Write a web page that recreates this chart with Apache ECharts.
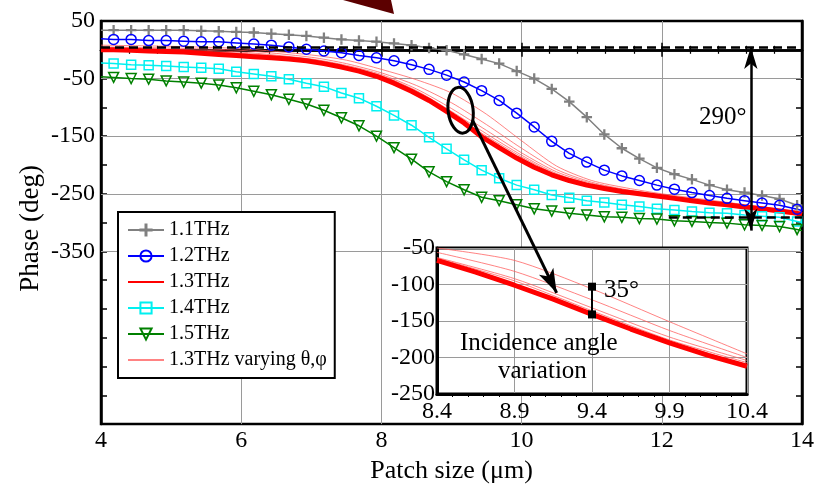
<!DOCTYPE html>
<html><head><meta charset="utf-8">
<script src="https://cdn.jsdelivr.net/npm/echarts@6/dist/echarts.min.js"></script>
<style>html,body{margin:0;padding:0;background:#fff}#c{width:817px;height:489px}</style>
</head><body><div id="c"></div>
<script>
const FONT = "Liberation Serif";

// marker positions (patch size, um)
const patchSize = [4.18, 4.43, 4.68, 4.93, 5.18, 5.43, 5.68, 5.93, 6.18, 6.43, 6.68, 6.93, 7.18, 7.43, 7.68, 7.93, 8.18, 8.43, 8.68, 8.93,
  9.18, 9.43, 9.68, 9.93, 10.18, 10.43, 10.68, 10.93, 11.18, 11.43, 11.68, 11.93, 12.18, 12.43, 12.68, 12.93, 13.18, 13.43, 13.68, 13.93];
const edgeX = [4, 14];

const phase11 = [34, 34, 34, 34, 34, 33, 32, 31, 30, 28, 26, 24, 21, 18, 16, 14, 11, 8, 3, -1,
  -8, -16, -24, -37, -50, -68, -90, -117, -147, -171, -189, -205, -216, -225, -235, -243, -248, -253, -259, -270];
const edge11 = [34, -273];
const phase12 = [18, 18, 16, 16, 15, 14, 14, 12, 10, 8, 5, 1, -2, -5, -10, -14, -19, -26, -34, -44,
  -56, -71, -88, -110, -134, -159, -180, -195, -209, -219, -227, -235, -242, -248, -253, -258, -262, -266, -270, -277];
const edge12 = [19, -279];
const phase13 = [0, -1, -2, -3, -4, -6, -8, -10, -12, -14, -16, -19, -24, -30, -37, -46, -58, -72, -88, -107,
  -127, -151, -170, -188, -204, -217, -227, -235, -241, -246, -250, -254, -258, -262, -266, -269, -273, -276, -280, -284];
const edge13 = [0, -286];
const phase14 = [-24, -26, -27, -28, -30, -31, -33, -38, -42, -46, -51, -58, -64, -75, -84, -98, -114, -131, -152, -172,
  -191, -209, -223, -235, -243, -252, -257, -262, -265, -269, -272, -276, -278, -281, -283, -284, -287, -289, -291, -298];
const edge14 = [-23, -300];
const phase15 = [-48, -50, -51, -54, -56, -58, -61, -66, -72, -78, -86, -94, -105, -118, -132, -150, -170, -190, -212, -229,
  -243, -256, -262, -269, -276, -280, -284, -287, -290, -291, -293, -294, -297, -298, -300, -301, -304, -305, -307, -312];
const edge15 = [-47, -314];

// 1.3 THz with varying incidence angles
const varyX = [4, 5, 6, 7, 7.5, 8, 8.5, 9, 9.5, 10, 10.5, 11, 11.5, 12, 13, 14];
const vary1 = [8, 6, 2, -9, -18, -34, -52, -75, -112, -158, -202, -227, -240, -250, -266, -282];
const vary2 = [5, 3, -1, -13, -24, -40, -62, -92, -130, -171, -208, -230, -243, -252, -268, -284];
const vary3 = [3, 1, -4, -16, -27, -43, -68, -102, -140, -179, -212, -232, -244, -253, -268, -284];
const vary4 = [2, -1, -6, -17, -29, -45, -71, -107, -146, -183, -215, -234, -245, -254, -269, -285];
const vary5 = [1, -2, -7, -18, -30, -46, -73, -111, -150, -186, -217, -235, -246, -254, -269, -285];

// inset (zoom 8.4 - 10.4 um)
const insetX = [8.4, 8.65, 8.9, 9.15, 9.4, 9.65, 9.9, 10.15, 10.4];
const insetThick = [-67, -83, -101, -120, -141, -161, -180, -197, -212];
const insetVX = [8.4, 8.9, 9.4, 9.9, 10.4];
const insetV1 = [-50, -67, -106, -151, -195];
const insetV2 = [-56, -82, -121, -163, -200];
const insetV3 = [-63, -92, -132, -172, -204];
const insetV4 = [-64, -95, -136, -176, -207];
const insetV5 = [-66, -99, -139, -178, -210];

const yLabels = [50, -50, -150, -250, -350];
const yGridLines = [-50, -150, -250, -350];
const refTop = 5, refBottom = -291, arrowX = 13.27;

const names = ['1.1THz', '1.2THz', '1.3THz', '1.4THz', '1.5THz', '1.3THz varying \u03b8,\u03c6'];
const VARY = names[5];

function withEdges(vals, edges) {
  const d = [{ value: [edgeX[0], edges[0]], symbol: 'none' }];
  vals.forEach((v, i) => d.push([patchSize[i], v]));
  d.push({ value: [edgeX[1], edges[1]], symbol: 'none' });
  return d;
}
function pairs(xs, ys) { return ys.map((v, i) => [xs[i], v]); }

const PLUS = 'path://M-0.7,-8H0.7V8H-0.7Z M-8,-0.7H8V0.7H-8Z';
const TRI = 'path://M-5,-4L5,-4L0,5Z';
const CLEAR = 'rgba(0,0,0,0)';

function marked(name, vals, edges, color, symbol, size, fill) {
  return {
    type: 'line', name, data: withEdges(vals, edges), xAxisIndex: 0, yAxisIndex: 0,
    symbol, symbolSize: size, showAllSymbol: true, z: 3,
    lineStyle: { color, width: 1.5 },
    itemStyle: { color: fill, borderColor: color, borderWidth: 1.5 }
  };
}
function thin(xs, ys, xi, yi, z) {
  return { type: 'line', name: VARY, data: pairs(xs, ys), xAxisIndex: xi, yAxisIndex: yi,
    symbol: 'circle', showSymbol: false, smooth: 0.25, z,
    lineStyle: { color: 'rgba(255,90,90,0.75)', width: 1 }, itemStyle: { color: CLEAR, borderWidth: 0 } };
}

const series = [
  { type: 'line', name: 'grid', data: [], xAxisIndex: 0, yAxisIndex: 0,
    markLine: { silent: true, symbol: 'none', z: 1, label: { show: false }, animation: false,
      lineStyle: { color: '#9a9a9a', width: 1, type: 'solid' },
      data: yGridLines.map(v => ({ yAxis: v })) } },
  thin(varyX, vary1, 0, 0, 2), thin(varyX, vary2, 0, 0, 2), thin(varyX, vary3, 0, 0, 2),
  thin(varyX, vary4, 0, 0, 2), thin(varyX, vary5, 0, 0, 2),
  marked(names[0], phase11, edge11, '#808080', PLUS, 9, '#808080'),
  marked(names[1], phase12, edge12, '#0000ff', 'circle', 10, CLEAR),
  { type: 'line', name: names[2], data: withEdges(phase13, edge13), xAxisIndex: 0, yAxisIndex: 0,
    symbol: 'circle', showSymbol: false, z: 3,
    lineStyle: { color: '#ff0000', width: 5 }, itemStyle: { color: CLEAR, borderWidth: 0 } },
  marked(names[3], phase14, edge14, '#00f0f0', 'rect', 9, CLEAR),
  marked(names[4], phase15, edge15, '#008000', TRI, 10, CLEAR),
  { type: 'line', name: 'annot', data: [], xAxisIndex: 0, yAxisIndex: 0,
    markLine: { silent: true, z: 20, label: { show: false }, animation: false,
      data: [
        [{ coord: [edgeX[0], refTop], symbol: 'none', lineStyle: { color: '#000', width: 2.5, type: [9, 5] } },
         { coord: [edgeX[1], refTop], symbol: 'none' }],
        [{ coord: [12.1, refBottom], symbol: 'none', lineStyle: { color: '#000', width: 2.5, type: [9, 5] } },
         { coord: [edgeX[1], refBottom], symbol: 'none' }],
        [{ coord: [arrowX, refTop], symbol: 'arrow', symbolSize: [10, 22], lineStyle: { color: '#000', width: 2.5, type: 'solid' } },
         { coord: [arrowX, -314], symbol: 'arrow', symbolSize: [10, 22] }],
        [{ coord: [9.3, -122], symbol: 'none', lineStyle: { color: '#000', width: 3, type: 'solid' } },
         { coord: [10.5, -422], symbol: 'arrow', symbolSize: [12, 24] }]
      ] } },
  thin(insetVX, insetV1, 2, 2, 12), thin(insetVX, insetV2, 2, 2, 12), thin(insetVX, insetV3, 2, 2, 12),
  thin(insetVX, insetV4, 2, 2, 12), thin(insetVX, insetV5, 2, 2, 12),
  { type: 'line', name: 'insetThick', data: pairs(insetX, insetThick), xAxisIndex: 2, yAxisIndex: 2, symbol: 'none', z: 13,
    lineStyle: { color: '#ff0000', width: 5 },
    markLine: { silent: true, z: 21, label: { show: false }, animation: false,
      data: [[{ coord: [9.4, -103], symbol: 'rect', symbolSize: 8, lineStyle: { color: '#000', width: 2, type: 'solid' } },
              { coord: [9.4, -141], symbol: 'rect', symbolSize: 8 }]] } }
];

const axisText = { fontFamily: FONT, fontSize: 24, color: '#000' };
const chart = echarts.init(document.getElementById('c'), null, { renderer: 'canvas' });
chart.setOption({
  animation: false,
  backgroundColor: '#fff',
  textStyle: { fontFamily: FONT, color: '#000' },
  grid: [
    { left: 101, right: 14, top: 21, bottom: 57, show: true, borderColor: '#000', borderWidth: 2.5, backgroundColor: '#fff', z: 0 },
    { left: 437, top: 248, width: 310, height: 146, show: true, borderColor: '#000', borderWidth: 3, backgroundColor: '#fff', z: 10 }
  ],
  xAxis: [
    { type: 'value', gridIndex: 0, min: 4, max: 14, interval: 2, position: 'bottom',
      name: 'Patch size (\u03bcm)', nameLocation: 'middle', nameGap: 29, nameTextStyle: { fontFamily: FONT, fontSize: 26, color: '#000' },
      axisLine: { lineStyle: { color: '#000', width: 2.5 } },
      axisTick: { inside: true, length: 7, lineStyle: { color: '#000', width: 1.5 } },
      minorTick: { show: true, splitNumber: 5, length: 4, lineStyle: { color: '#000', width: 1.2 } },
      axisLabel: Object.assign({ margin: 5 }, axisText),
      splitLine: { show: true, lineStyle: { color: '#9a9a9a', width: 1 } } },
    { type: 'value', gridIndex: 0, min: 4, max: 14, interval: 2, position: 'top',
      axisLine: { lineStyle: { color: '#000', width: 2.5 } },
      axisTick: { inside: true, length: 7, lineStyle: { color: '#000', width: 1.5 } },
      minorTick: { show: true, splitNumber: 5, length: 4, lineStyle: { color: '#000', width: 1.2 } },
      axisLabel: { show: false }, splitLine: { show: false } },
    { type: 'value', gridIndex: 1, min: 8.4, max: 10.4, interval: 0.5, z: 11,
      axisLine: { lineStyle: { color: '#000', width: 3 } },
      axisTick: { show: false },
      minorTick: { show: true, splitNumber: 5, length: 3, lineStyle: { color: '#000', width: 1 } },
      axisLabel: Object.assign({ margin: 6, formatter: v => (+v).toFixed(1) }, axisText),
      splitLine: { show: true, lineStyle: { color: '#9a9a9a', width: 1 } } }
  ],
  yAxis: [
    { type: 'value', gridIndex: 0, min: -650, max: 50, interval: 50, position: 'left',
      axisLine: { lineStyle: { color: '#000', width: 2.5 } },
      axisTick: { inside: true, length: 6, lineStyle: { color: '#000', width: 1.5 } },
      axisLabel: Object.assign({ margin: 6, formatter: v => yLabels.includes(Math.round(v)) ? String(Math.round(v)) : '' }, axisText),
      splitLine: { show: false } },
    { type: 'value', gridIndex: 0, min: -650, max: 50, interval: 50, position: 'right',
      axisLine: { lineStyle: { color: '#000', width: 2.5 } },
      axisTick: { inside: true, length: 6, lineStyle: { color: '#000', width: 1.5 } },
      axisLabel: { show: false }, splitLine: { show: false } },
    { type: 'value', gridIndex: 1, min: -250, max: -50, interval: 50, z: 11,
      axisLine: { lineStyle: { color: '#000', width: 3 } },
      axisTick: { show: false },
      axisLabel: Object.assign({ margin: 2 }, axisText),
      splitLine: { show: true, lineStyle: { color: '#9a9a9a', width: 1 } } }
  ],
  legend: {
    data: names, orient: 'vertical', left: 118, top: 212, padding: [8, 8, 8, 9],
    itemWidth: 36, itemHeight: 14, itemGap: 6,
    backgroundColor: '#fff', borderColor: '#000', borderWidth: 2, borderRadius: 0, z: 15,
    textStyle: { fontFamily: FONT, fontSize: 20, color: '#000', lineHeight: 20 }
  },
  series
});

const ell = chart.convertToPixel({ gridIndex: 0 }, [9.13, -105]);
chart.setOption({
  graphic: [
    { type: 'polygon', z: 30, shape: { points: [[343, 0], [391, 0], [394, 14]] }, style: { fill: '#5c0000' } },
    { type: 'ellipse', z: 30, shape: { cx: ell[0], cy: ell[1], rx: 12.5, ry: 23 }, rotation: 0.12, originX: ell[0], originY: ell[1],
      style: { fill: 'none', stroke: '#000', lineWidth: 3 } },
    { type: 'text', z: 30, left: 699, top: 105, style: { text: '290\u00b0', fontFamily: FONT, fontSize: 25, fill: '#000' } },
    { type: 'text', z: 30, left: 604, top: 278, style: { text: '35\u00b0', fontFamily: FONT, fontSize: 25, fill: '#000' } },
    { type: 'text', z: 30, left: 460, top: 331, style: { text: 'Incidence angle', fontFamily: FONT, fontSize: 25, fill: '#000' } },
    { type: 'text', z: 30, left: 498, top: 359, style: { text: 'variation', fontFamily: FONT, fontSize: 25, fill: '#000' } },
    { type: 'text', z: 30, left: 17, top: 165, rotation: Math.PI / 2,
      style: { text: 'Phase (deg)', fontFamily: FONT, fontSize: 27, fill: '#000' } }
  ]
});
</script></body></html>
